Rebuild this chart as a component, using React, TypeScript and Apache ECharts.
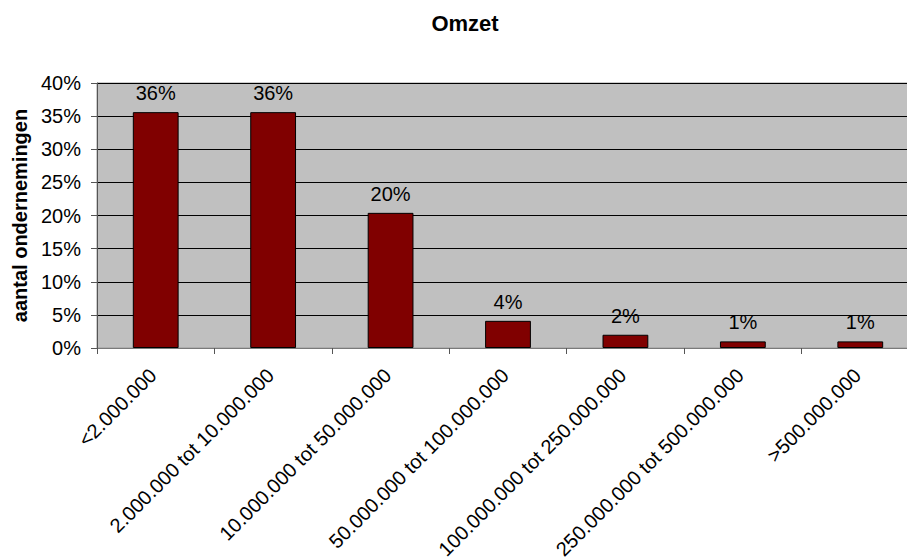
import React, { useEffect, useRef } from "react";
import * as echarts from "echarts";

const categories = [
  "<2.000.000",
  "2.000.000 tot 10.000.000",
  "10.000.000 tot 50.000.000",
  "50.000.000 tot 100.000.000",
  "100.000.000 tot 250.000.000",
  "250.000.000 tot 500.000.000",
  ">500.000.000",
];

// share of companies per turnover class, in percent
const shares = [35.6, 35.6, 20.4, 4.1, 2.0, 1.0, 1.0];

const yTicks = { min: 0, max: 40, interval: 5 };

const FONT = "'Liberation Sans', Arial, sans-serif";

export default function App() {
  const ref = useRef<HTMLDivElement>(null);

  useEffect(() => {
    if (!ref.current) return;
    const chart = echarts.init(ref.current, undefined, { renderer: "svg" });
    chart.setOption({
      animation: false,
      backgroundColor: "#ffffff",
      textStyle: { fontFamily: FONT },
      title: {
        text: "Omzet",
        left: 460,
        textAlign: "center",
        top: 7,
        textStyle: { fontFamily: FONT, fontSize: 22, fontWeight: "bold", color: "#000" },
      },
      grid: {
        left: 97,
        right: 1,
        top: 83,
        bottom: 210,
        outerBoundsMode: "none",
        containLabel: false,
        show: true,
        backgroundColor: "#C0C0C0",
        borderColor: "#9a9a9a",
        borderWidth: 1,
      },
      xAxis: {
        type: "category",
        data: categories,
        boundaryGap: true,
        axisLine: { show: true, lineStyle: { color: "#7a7a7a", width: 1 } },
        axisTick: { show: true, alignWithLabel: false, length: 6, lineStyle: { color: "#555" } },
        axisLabel: {
          interval: 0,
          rotate: 45,
          margin: 21,
          padding: [0, 4, 0, 0],
          fontFamily: FONT,
          fontSize: 20,
          color: "#000",
        },
        splitLine: { show: false },
      },
      yAxis: {
        type: "value",
        min: yTicks.min,
        max: yTicks.max,
        interval: yTicks.interval,
        name: "aantal ondernemingen",
        nameLocation: "middle",
        nameGap: 66,
        nameTextStyle: { fontFamily: FONT, fontSize: 20, fontWeight: "bold", color: "#000" },
        axisLine: { show: true, lineStyle: { color: "#555", width: 1 } },
        axisTick: { show: true, length: 6, lineStyle: { color: "#555" } },
        axisLabel: {
          formatter: "{value}%",
          margin: 16,
          fontFamily: FONT,
          fontSize: 20,
          color: "#000",
        },
        splitLine: { show: true, lineStyle: { color: "#000", width: 1 } },
      },
      series: [
        {
          type: "bar",
          data: shares,
          barWidth: "39%",
          itemStyle: { color: "#800000", borderColor: "#000", borderWidth: 1 },
          label: {
            show: true,
            position: "top",
            distance: 9,
            formatter: (p: any) => `${Math.round(p.value)}%`,
            fontFamily: FONT,
            fontSize: 20,
            color: "#000",
          },
        },
      ],
    });
    return () => chart.dispose();
  }, []);

  return (
    <div
      style={{
        position: "fixed",
        left: 0,
        top: 0,
        width: 907,
        height: 558,
        overflow: "hidden",
        background: "#fff",
      }}
    >
      <div ref={ref} style={{ width: 920, height: 558 }} />
    </div>
  );
}
